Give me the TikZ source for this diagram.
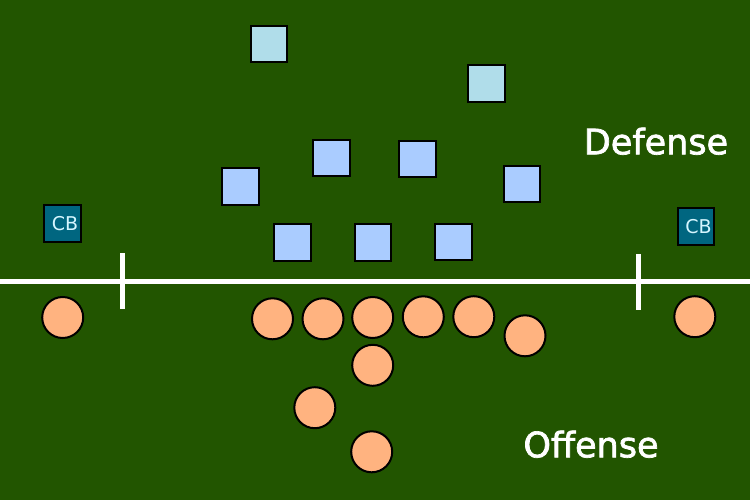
\documentclass[tikz,border=0pt]{standalone}
\usepackage{fontspec}
\setmainfont{DejaVu Sans}
\newfontfamily\labelfont[FakeBold=2]{DejaVu Sans}
\definecolor{field}{HTML}{225500}
\definecolor{safetyc}{HTML}{B0DDEA}
\definecolor{defc}{HTML}{AACCFF}
\definecolor{cbc}{HTML}{006680}
\definecolor{cbtext}{HTML}{D5F6FF}
\definecolor{offc}{HTML}{FFB380}
\begin{document}
\begin{tikzpicture}[x=1pt,y=-1pt,
  safety/.style={draw=black,line width=2pt,fill=safetyc,minimum size=36.5pt,inner sep=0pt},
  defender/.style={draw=black,line width=2pt,fill=defc,minimum size=36.5pt,inner sep=0pt},
  corner/.style={draw=black,line width=2pt,fill=cbc,minimum size=36.5pt,inner sep=0pt,
    text=cbtext,font=\fontsize{19}{19}\selectfont},
  player/.style={circle,draw=black,line width=2pt,fill=offc,minimum size=41pt,inner sep=0pt},
  label/.style={text=white,font=\labelfont\fontsize{35}{35}\selectfont,inner sep=0pt,anchor=base}]
\fill[field] (0,0) rectangle (750,500);
\useasboundingbox (0,0) rectangle (750,500);
% line of scrimmage
\coordinate (lw) at (0,281);
\coordinate (le) at (750,281);
\draw[white,line width=5pt] (lw) -- (le);
\coordinate (t1a) at (122,253); \coordinate (t1b) at (122,309);
\coordinate (t2a) at (638.7,254); \coordinate (t2b) at (638.7,310);
\draw[white,line width=5pt] (t1a) -- (t1b);
\draw[white,line width=5pt] (t2a) -- (t2b);
% defense
\node[safety] (s1) at (269,44) {};
\node[safety] (s2) at (486.5,83.5) {};
\node[defender] (lb1) at (240.5,186.7) {};
\node[defender] (lb2) at (331.5,158) {};
\node[defender] (lb3) at (417.7,158.8) {};
\node[defender] (lb4) at (522,184) {};
\node[defender] (dl1) at (292.3,242.7) {};
\node[defender] (dl2) at (372.8,242.7) {};
\node[defender] (dl3) at (453.3,242.2) {};
\node[corner] (cb1) at (62.5,223.7) {\hspace{5pt}CB};
\node[corner] (cb2) at (696,226.5) {\hspace{5pt}CB};
% offense
\node[player] (wr1) at (62.7,317.5) {};
\node[player] (wr2) at (694.8,316.7) {};
\node[player] (ol1) at (272.5,318.8) {};
\node[player] (ol2) at (323,318.8) {};
\node[player] (ol3) at (372.7,317.5) {};
\node[player] (ol4) at (423.3,316.8) {};
\node[player] (ol5) at (473.8,316.7) {};
\node[player] (te) at (525,335.8) {};
\node[player] (qb) at (372.7,365.3) {};
\node[player] (fb) at (314.8,407.7) {};
\node[player] (rb) at (371.7,451.8) {};
% labels
\node[label] (def) at (656,154.3) {Defense};
\node[label] (off) at (591,457.3) {Offense};
\end{tikzpicture}
\end{document}
